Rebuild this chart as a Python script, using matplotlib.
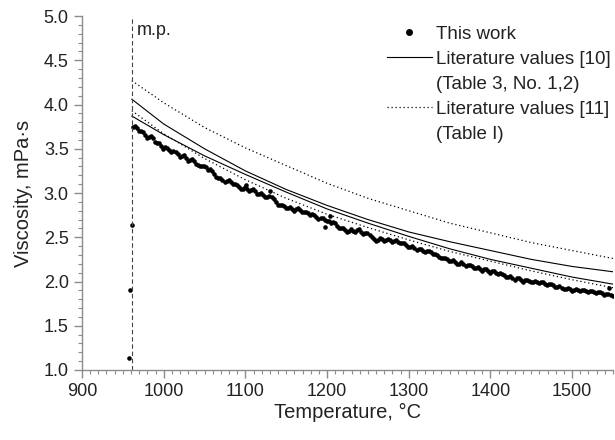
import matplotlib
matplotlib.use('Agg')
import matplotlib.pyplot as plt
from matplotlib.lines import Line2D
from matplotlib.ticker import MultipleLocator

plt.rcParams['font.family'] = ['Liberation Sans', 'DejaVu Sans']

# measured viscosity (this work), T in degC, eta in mPa*s
temp_work = [
    957.5, 958.7, 961,
    962, 967, 972, 977, 982, 987, 992, 997, 1002, 1007, 1012, 1017, 1022, 1027,
    1032, 1037, 1042, 1047, 1052, 1057, 1062, 1067, 1072, 1077, 1082, 1087, 1092,
    1097, 1102, 1107, 1112, 1117, 1122, 1127, 1132, 1137, 1142, 1147, 1152, 1157,
    1162, 1167, 1172, 1177, 1182, 1187, 1192, 1197, 1202, 1207, 1212, 1217, 1222,
    1227, 1232, 1237, 1242, 1247, 1252, 1257, 1262, 1267, 1272, 1277, 1282, 1287,
    1292, 1297, 1302, 1307, 1312, 1317, 1322, 1327, 1332, 1337, 1342, 1347, 1352,
    1357, 1362, 1367, 1372, 1377, 1382, 1387, 1392, 1397, 1402, 1407, 1412, 1417,
    1422, 1427, 1432, 1437, 1442, 1447, 1452, 1457, 1462, 1467, 1472, 1477, 1482,
    1487, 1492, 1497, 1502, 1507, 1512, 1517, 1522, 1527, 1532, 1537, 1542, 1547,
    1101, 1130, 1197, 1203, 1545,
]
visc_work = [
    1.14, 1.90, 2.64,
    3.75, 3.73, 3.70, 3.66, 3.63, 3.62, 3.57, 3.53, 3.52, 3.49, 3.47, 3.44, 3.42, 3.40,
    3.37, 3.36, 3.32, 3.31, 3.29, 3.27, 3.22, 3.17, 3.15, 3.14, 3.13, 3.10, 3.07,
    3.05, 3.05, 3.03, 3.02, 2.99, 2.98, 2.96, 2.95, 2.90, 2.86, 2.85, 2.83, 2.82,
    2.82, 2.81, 2.78, 2.77, 2.76, 2.73, 2.72, 2.70, 2.68, 2.67, 2.63, 2.61, 2.58,
    2.57, 2.57, 2.58, 2.56, 2.55, 2.53, 2.48, 2.47, 2.48, 2.47, 2.47, 2.46, 2.45,
    2.43, 2.41, 2.39, 2.38, 2.37, 2.35, 2.34, 2.33, 2.31, 2.28, 2.26, 2.25, 2.23,
    2.22, 2.20, 2.20, 2.19, 2.17, 2.15, 2.14, 2.14, 2.12, 2.12, 2.10, 2.10, 2.07,
    2.05, 2.04, 2.04, 2.02, 2.02, 2.01, 2.00, 2.00, 1.99, 1.97, 1.97, 1.96, 1.94,
    1.93, 1.92, 1.91, 1.90, 1.90, 1.90, 1.89, 1.89, 1.88, 1.88, 1.87, 1.86, 1.85,
    3.09, 3.02, 2.62, 2.74, 1.93,
]

# points in between (second run of readings)
temp_work2 = [
    964.5, 969.5, 974.5, 979.5, 984.5, 989.5, 994.5, 999.5, 1004.5, 1009.5,
    1014.5, 1019.5, 1024.5, 1029.5, 1034.5, 1039.5, 1044.5, 1049.5, 1054.5, 1059.5,
    1064.5, 1069.5, 1074.5, 1079.5, 1084.5, 1089.5, 1094.5, 1099.5, 1104.5, 1109.5,
    1114.5, 1119.5, 1124.5, 1129.5, 1134.5, 1139.5, 1144.5, 1149.5, 1154.5, 1159.5,
    1164.5, 1169.5, 1174.5, 1179.5, 1184.5, 1189.5, 1194.5, 1199.5, 1204.5, 1209.5,
    1214.5, 1219.5, 1224.5, 1229.5, 1234.5, 1239.5, 1244.5, 1249.5, 1254.5, 1259.5,
    1264.5, 1269.5, 1274.5, 1279.5, 1284.5, 1289.5, 1294.5, 1299.5, 1304.5, 1309.5,
    1314.5, 1319.5, 1324.5, 1329.5, 1334.5, 1339.5, 1344.5, 1349.5, 1354.5, 1359.5,
    1364.5, 1369.5, 1374.5, 1379.5, 1384.5, 1389.5, 1394.5, 1399.5, 1404.5, 1409.5,
    1414.5, 1419.5, 1424.5, 1429.5, 1434.5, 1439.5, 1444.5, 1449.5, 1454.5, 1459.5,
    1464.5, 1469.5, 1474.5, 1479.5, 1484.5, 1489.5, 1494.5, 1499.5, 1504.5, 1509.5,
    1514.5, 1519.5, 1524.5, 1529.5, 1534.5, 1539.5, 1544.5, 1549.5,
]
visc_work2 = [
    3.76, 3.70, 3.69, 3.62, 3.64, 3.58, 3.56, 3.50, 3.51, 3.46,
    3.46, 3.41, 3.43, 3.36, 3.38, 3.33, 3.30, 3.31, 3.26, 3.25,
    3.18, 3.17, 3.13, 3.15, 3.10, 3.09, 3.05, 3.07, 3.02, 3.04,
    2.99, 3.00, 2.95, 2.97, 2.93, 2.87, 2.87, 2.83, 2.84, 2.80,
    2.83, 2.79, 2.79, 2.75, 2.75, 2.71, 2.72, 2.68, 2.66, 2.66,
    2.61, 2.60, 2.56, 2.59, 2.56, 2.59, 2.54, 2.55, 2.50, 2.46,
    2.49, 2.46, 2.48, 2.45, 2.47, 2.43, 2.43, 2.39, 2.40, 2.36,
    2.37, 2.33, 2.35, 2.31, 2.30, 2.26, 2.27, 2.23, 2.24, 2.20,
    2.22, 2.18, 2.19, 2.15, 2.16, 2.12, 2.14, 2.10, 2.12, 2.08,
    2.09, 2.05, 2.06, 2.02, 2.04, 2.00, 2.02, 1.99, 2.01, 1.98,
    1.99, 1.96, 1.97, 1.94, 1.95, 1.91, 1.93, 1.89, 1.91, 1.89,
    1.90, 1.88, 1.89, 1.87, 1.88, 1.85, 1.86, 1.84,
]

# literature curves
temp_lit = [961, 1000, 1050, 1100, 1150, 1200, 1250, 1300, 1350, 1400, 1450, 1500, 1550]
lit10_a = [4.06, 3.78, 3.50, 3.25, 3.04, 2.86, 2.70, 2.56, 2.45, 2.35, 2.25, 2.17, 2.11]
lit10_b = [3.87, 3.66, 3.42, 3.21, 3.01, 2.82, 2.66, 2.51, 2.37, 2.25, 2.15, 2.05, 1.97]
lit11_a = [4.27, 4.02, 3.74, 3.51, 3.31, 3.11, 2.94, 2.80, 2.66, 2.55, 2.44, 2.35, 2.26]
lit11_b = [3.93, 3.67, 3.39, 3.15, 2.94, 2.76, 2.61, 2.47, 2.34, 2.23, 2.12, 2.02, 1.93]

melting_point = 961

fig = plt.figure(figsize=(6.15, 4.4), dpi=100)
ax = fig.add_axes([0.1333, 0.1591, 0.8634, 0.8045])

dots = (0, (1, 2.2))
ax.plot(temp_lit, lit10_a, color='black', lw=0.8)
ax.plot(temp_lit, lit10_b, color='black', lw=0.8)
ax.plot(temp_lit, lit11_a, color='black', lw=0.9, linestyle=dots)
ax.plot(temp_lit, lit11_b, color='black', lw=0.9, linestyle=dots)
ax.plot(temp_work, visc_work, 'o', color='black', ms=3.3, mew=0)
ax.plot(temp_work2, visc_work2, 'o', color='black', ms=3.3, mew=0)

ax.axvline(melting_point, color='#444444', lw=0.8, linestyle=(0, (4, 2.5)))
ax.text(967, 4.84, 'm.p.', fontsize=13, va='center', ha='left', color='#222222')

ax.set_xlim(900, 1550)
ax.set_ylim(1.0, 5.0)
ax.xaxis.set_major_locator(MultipleLocator(100))
ax.xaxis.set_minor_locator(MultipleLocator(10))
ax.yaxis.set_major_locator(MultipleLocator(0.5))
ax.yaxis.set_minor_locator(MultipleLocator(0.1))
ax.yaxis.set_major_formatter(plt.FormatStrFormatter('%.1f'))

for side in ['top', 'right']:
    ax.spines[side].set_visible(False)
for side in ['left', 'bottom']:
    ax.spines[side].set_color('#8c8c8c')
    ax.spines[side].set_linewidth(1.0)
ax.tick_params(which='major', direction='out', length=6, width=1.0, color='#8c8c8c',
               labelsize=13, labelcolor='#222222')
ax.tick_params(which='minor', direction='out', length=3, width=0.8, color='#8c8c8c')

ax.set_xlabel('Temperature, °C', fontsize=14.5, color='#222222', labelpad=2)
ax.set_ylabel('Viscosity, mPa·s', fontsize=14.5, color='#222222', labelpad=8)

handles = [
    Line2D([], [], marker='o', ls='none', color='black', ms=4),
    Line2D([], [], color='black', lw=0.8),
    Line2D([], [], color='none'),
    Line2D([], [], color='black', lw=0.9, linestyle=dots),
    Line2D([], [], color='none'),
]
labels = ['This work', 'Literature values [10]', '(Table 3, No. 1,2)',
          'Literature values [11]', '(Table I)']
leg = ax.legend(handles, labels, loc='upper right', bbox_to_anchor=(1.02, 1.01),
                frameon=False, fontsize=13.5, handlelength=2.4, handletextpad=0.2,
                labelspacing=0.42, borderpad=0.2)
for t in leg.get_texts():
    t.set_color('#222222')

fig.savefig('out.png', dpi=100)
